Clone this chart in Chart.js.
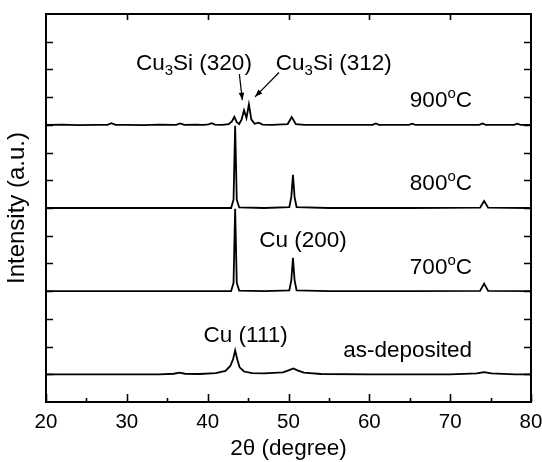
<!DOCTYPE html>
<html>
<head>
<meta charset="utf-8">
<script src="https://cdn.jsdelivr.net/npm/chart.js@4.4.1/dist/chart.umd.min.js"></script>
<style>
  html, body { margin: 0; padding: 0; background: #fff; }
  #wrap { width: 542px; height: 462px; }
</style>
</head>
<body>
<div id="wrap"><canvas id="xrd"></canvas></div>
<script>
// XRD patterns, 2theta (degree) vs stacked intensity (a.u.)

const xTicks = [20, 30, 40, 50, 60, 70, 80];
const xMinorTicks = [25, 35, 45, 55, 65, 75];
const yTicks = [1, 2, 3, 4, 5, 6, 7, 8, 9, 10, 11, 12, 13];

const asDeposited = [
  [20, 1.0], [25, 1.0], [30, 1.0], [34, 1.0], [35.8, 1.02], [36.5, 1.06], [37.2, 1.02],
  [39, 1.01], [41, 1.04], [42.2, 1.12], [42.8, 1.3], [43.15, 1.55], [43.4, 1.86],
  [43.65, 1.55], [43.95, 1.25], [44.5, 1.1], [45.5, 1.04], [47, 1.03], [49.3, 1.07],
  [50.0, 1.14], [50.6, 1.21], [51.1, 1.14], [51.9, 1.06], [54, 1.01], [60, 1.0],
  [65, 1.0], [70, 1.0], [73.3, 1.03], [74.2, 1.08], [75.1, 1.03], [78, 1.0], [80, 1.0]
];

const t700 = [
  [20, 4.0], [30, 4.0], [38, 4.0], [42.9, 4.0], [43.2, 4.3], [43.4, 6.97], [43.6, 4.3],
  [43.9, 4.02], [47, 4.0], [50.1, 4.03], [50.35, 4.4], [50.55, 5.2], [50.75, 4.4],
  [51.0, 4.03], [55, 4.0], [65, 4.0], [73.7, 4.01], [74.2, 4.27], [74.7, 4.01], [80, 4.0]
];

const t800 = [
  [20, 7.0], [30, 7.0], [38, 7.0], [42.9, 7.0], [43.2, 7.3], [43.4, 9.97], [43.6, 7.3],
  [43.9, 7.02], [47, 7.0], [50.1, 7.03], [50.35, 7.4], [50.55, 8.2], [50.75, 7.4],
  [51.0, 7.03], [55, 7.0], [65, 7.0], [73.7, 7.01], [74.2, 7.25], [74.7, 7.01], [80, 7.0]
];

const t900 = [
  [20, 10.0], [22, 10.01], [24, 9.99], [26, 10.0], [27.6, 10.0], [28.1, 10.06], [28.6, 10.0],
  [30, 10.0], [32, 9.99], [34, 10.01], [36.1, 10.0], [36.6, 10.05], [37.1, 10.0],
  [38.5, 10.01], [39.5, 10.0], [40.1, 10.02], [40.5, 10.06], [40.9, 10.01], [41.8, 10.0],
  [42.6, 10.03], [43.0, 10.12], [43.3, 10.29], [43.6, 10.1], [43.9, 10.03], [44.2, 10.2],
  [44.5, 10.53], [44.8, 10.25], [45.1, 10.74], [45.4, 10.2], [45.8, 10.04], [46.3, 10.08],
  [46.8, 10.01], [48, 10.0], [49.9, 10.03], [50.4, 10.28], [50.9, 10.03], [52, 10.0],
  [55, 10.0], [58, 10.0], [60.4, 10.0], [60.8, 10.05], [61.2, 10.0], [63, 10.0],
  [64.9, 10.0], [65.3, 10.04], [65.7, 10.0], [68, 10.0], [71, 10.0], [73.6, 10.0],
  [74.0, 10.05], [74.4, 10.0], [76, 10.0], [77.9, 10.0], [78.3, 10.04], [78.7, 10.0], [80, 10.0]
];

// labels placed in data coordinates (x = 2theta, y = baseline of text)
const labels = [
  { parts: [["Cu"], ["3", "sub"], ["Si (320)"]], x: 38.3, y: 11.98, align: "center" },
  { parts: [["Cu"], ["3", "sub"], ["Si (312)"]], x: 55.6, y: 11.98, align: "center" },
  { parts: [["900"], ["o", "sup"], ["C"]], x: 72.7, y: 10.65, align: "right" },
  { parts: [["800"], ["o", "sup"], ["C"]], x: 72.7, y: 7.64, align: "right" },
  { parts: [["Cu (200)"]], x: 51.8, y: 5.58, align: "center" },
  { parts: [["700"], ["o", "sup"], ["C"]], x: 72.7, y: 4.61, align: "right" },
  { parts: [["Cu (111)"]], x: 44.7, y: 2.16, align: "center" },
  { parts: [["as-deposited"]], x: 72.7, y: 1.64, align: "right" }
];

const arrows = [
  { from: [43.92, 11.83], to: [44.29, 10.89] },
  { from: [48.83, 11.89], to: [45.86, 11.01] }
];

const FONT = "'Liberation Sans', Arial, sans-serif";

function toPoints(arr) {
  return arr.map(p => ({ x: p[0], y: p[1] }));
}

function drawRich(ctx, parts, x, y, align) {
  const big = "22.5px " + FONT;
  const small = "15px " + FONT;
  let total = 0;
  parts.forEach(p => {
    ctx.font = p[1] ? small : big;
    total += ctx.measureText(p[0]).width;
  });
  let cx = x;
  if (align === "center") cx = x - total / 2;
  if (align === "right") cx = x - total;
  ctx.textAlign = "left";
  ctx.textBaseline = "alphabetic";
  parts.forEach(p => {
    ctx.font = p[1] ? small : big;
    let dy = 0;
    if (p[1] === "sub") dy = 5;
    if (p[1] === "sup") dy = -9;
    ctx.fillText(p[0], cx, y + dy);
    cx += ctx.measureText(p[0]).width;
  });
}

const framePlugin = {
  id: "frameTicks",
  afterDraw(chart) {
    const ctx = chart.ctx;
    const a = chart.chartArea;
    const sx = chart.scales.x;
    const sy = chart.scales.y;
    ctx.save();
    ctx.strokeStyle = "#000";
    ctx.fillStyle = "#000";
    ctx.lineWidth = 2;
    ctx.strokeRect(a.left, a.top, a.right - a.left, a.bottom - a.top);

    ctx.lineWidth = 1.6;
    ctx.beginPath();
    xTicks.forEach(v => {
      const px = Math.round(sx.getPixelForValue(v)) + 0.5;
      ctx.moveTo(px, a.bottom); ctx.lineTo(px, a.bottom - 8);
      if (v > 20 && v < 80) { ctx.moveTo(px, a.top); ctx.lineTo(px, a.top + 6); }
    });
    xMinorTicks.forEach(v => {
      const px = Math.round(sx.getPixelForValue(v)) + 0.5;
      ctx.moveTo(px, a.bottom); ctx.lineTo(px, a.bottom - 4);
    });
    yTicks.forEach(v => {
      const py = Math.round(sy.getPixelForValue(v)) + 0.5;
      ctx.moveTo(a.left, py); ctx.lineTo(a.left + 7, py);
      ctx.moveTo(a.right, py); ctx.lineTo(a.right - 7, py);
    });
    ctx.stroke();

    // annotations
    labels.forEach(l => {
      drawRich(ctx, l.parts, sx.getPixelForValue(l.x), sy.getPixelForValue(l.y), l.align);
    });

    ctx.lineWidth = 1.2;
    arrows.forEach(ar => {
      const x1 = sx.getPixelForValue(ar.from[0]), y1 = sy.getPixelForValue(ar.from[1]);
      const x2 = sx.getPixelForValue(ar.to[0]), y2 = sy.getPixelForValue(ar.to[1]);
      const ang = Math.atan2(y2 - y1, x2 - x1);
      ctx.beginPath();
      ctx.moveTo(x1, y1); ctx.lineTo(x2, y2);
      ctx.stroke();
      ctx.beginPath();
      ctx.moveTo(x2, y2);
      ctx.lineTo(x2 - 8 * Math.cos(ang - 0.35), y2 - 8 * Math.sin(ang - 0.35));
      ctx.lineTo(x2 - 8 * Math.cos(ang + 0.35), y2 - 8 * Math.sin(ang + 0.35));
      ctx.closePath();
      ctx.fill();
    });
    ctx.restore();
  }
};

function lineSet(label, arr) {
  return {
    label: label,
    data: toPoints(arr),
    borderColor: "#000",
    borderWidth: 1.8,
    pointRadius: 0,
    tension: 0,
    fill: false
  };
}

new Chart(document.getElementById("xrd"), {
  type: "line",
  data: {
    datasets: [
      lineSet("as-deposited", asDeposited),
      lineSet("700°C", t700),
      lineSet("800°C", t800),
      lineSet("900°C", t900)
    ]
  },
  options: {
    responsive: true,
    maintainAspectRatio: false,
    animation: false,
    layout: { padding: { top: 14, right: 11, left: 0, bottom: 0 } },
    plugins: { legend: { display: false }, tooltip: { enabled: false } },
    scales: {
      x: {
        type: "linear",
        min: 20,
        max: 80,
        grid: { display: false, drawTicks: false },
        border: { display: false },
        ticks: {
          stepSize: 10,
          color: "#000",
          padding: 8,
          font: { family: FONT, size: 20.5 }
        },
        title: {
          display: true,
          text: "2θ (degree)",
          color: "#000",
          padding: { top: 0, bottom: 0 },
          font: { family: FONT, size: 22.5 }
        },
        afterFit: s => { s.height = 60; s.paddingLeft = 0; s.paddingRight = 0; }
      },
      y: {
        type: "linear",
        min: 0,
        max: 14,
        grid: { display: false, drawTicks: false },
        border: { display: false },
        ticks: { display: false },
        title: {
          display: true,
          text: "Intensity (a.u.)",
          color: "#000",
          padding: { top: 3, bottom: 0 },
          font: { family: FONT, size: 24 }
        },
        afterFit: s => { s.width = 46; s.paddingTop = 0; s.paddingBottom = 0; }
      }
    }
  },
  plugins: [framePlugin]
});
</script>
</body>
</html>
